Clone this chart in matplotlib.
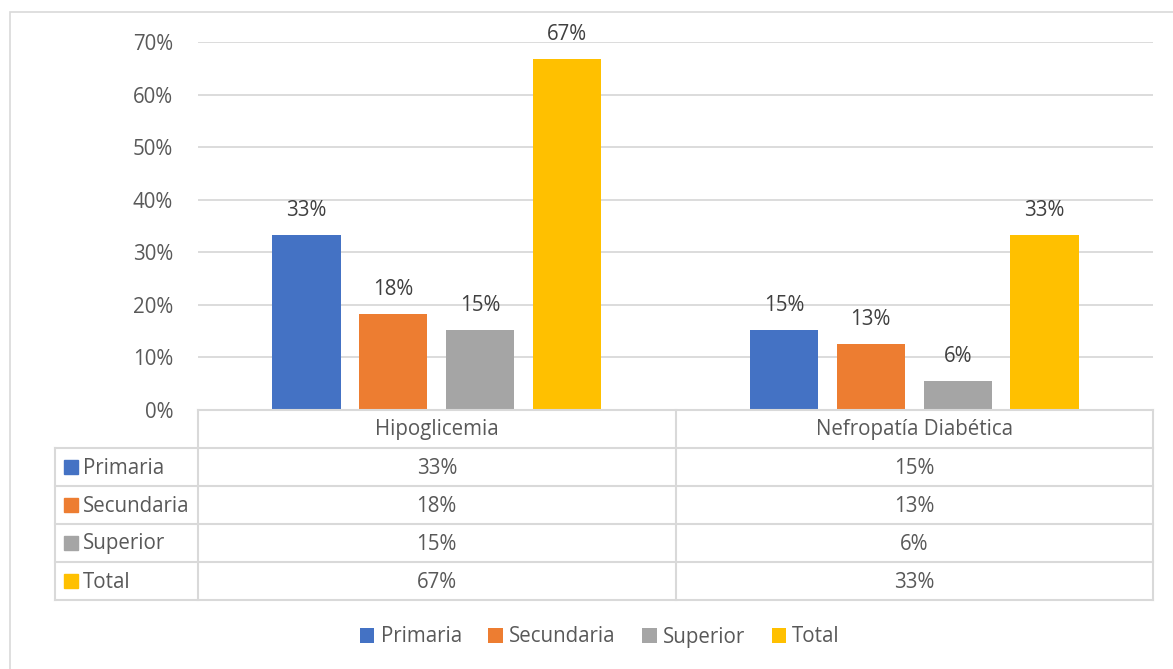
import numpy as np
import matplotlib
matplotlib.use("Agg")
import matplotlib.pyplot as plt
from matplotlib.patches import Rectangle

# datos
categorias = ["Hipoglicemia", "Nefropatía Diabética"]
series = ["Primaria", "Secundaria", "Superior", "Total"]
primaria = [0.333, 0.152]
secundaria = [0.182, 0.126]
superior = [0.152, 0.056]
total = [0.667, 0.333]
valores = [primaria, secundaria, superior, total]
colores = ["#4472C4", "#ED7D31", "#A5A5A5", "#FFC000"]

plt.rcParams["font.family"] = ["Open Sans", "DejaVu Sans"]
plt.rcParams["font.stretch"] = "semi-condensed"
TXT = "#595959"
GRID = "#D9D9D9"
FS = 14.8

W, H = 1173, 669
fig = plt.figure(figsize=(W / 100, H / 100), dpi=100)


def box(x0, y0, x1, y1):
    # pixeles (origen arriba-izquierda) -> fracciones de figura
    return [x0 / W, 1 - y1 / H, (x1 - x0) / W, (y1 - y0) / H]


# borde del grafico
fig.add_artist(Rectangle((10 / W, -0.1), 1.2, 1 - 12 / H + 0.1, transform=fig.transFigure,
                         fill=False, edgecolor=GRID, lw=1.2))

# barras
ax = fig.add_axes(box(198, 42, 1153, 410))
x = np.arange(len(categorias))
ancho = 0.143
paso = 0.182
for i, (nombre, vals, c) in enumerate(zip(series, valores, colores)):
    pos = x + (i - 1.5) * paso
    bars = ax.bar(pos, vals, width=ancho, color=c, label=nombre, zorder=3)
    for b, v in zip(bars, vals):
        ax.annotate(f"{v:.0%}", (b.get_x() + b.get_width() / 2, v), xytext=(0, 10),
                    textcoords="offset points", ha="center", va="bottom",
                    fontsize=FS, color="#404040")

ax.set_xlim(-0.5, len(categorias) - 0.5)
ax.set_ylim(0, 0.7)
ax.set_yticks(np.arange(0, 0.71, 0.1))
ax.set_yticklabels([f"{t:.0%}" for t in np.arange(0, 0.71, 0.1)], fontsize=FS, color=TXT)
ax.tick_params(axis="y", length=0, pad=18)
ax.set_xticks([])
ax.grid(axis="y", color=GRID, lw=1.3, zorder=0)
for s in ax.spines.values():
    s.set_visible(False)

# tabla de datos
tab = fig.add_axes(box(55, 410, 1153, 600))
tab.set_xlim(55, 1153)
tab.set_ylim(600, 410)
tab.axis("off")
col0, col_fin = 198, 1153
ancho_cat = (col_fin - col0) / len(categorias)
filas = np.linspace(410, 600, len(series) + 2)
lkw = dict(color=GRID, lw=1.5, clip_on=False)
# filas horizontales
tab.plot([col0, col_fin], [filas[0], filas[0]], **lkw)
for yy in filas[1:]:
    tab.plot([55, col_fin], [yy, yy], **lkw)
# verticales
tab.plot([55, 55], [filas[1], filas[-1]], **lkw)
for k in range(len(categorias) + 1):
    xx = col0 + k * ancho_cat
    tab.plot([xx, xx], [filas[0], filas[-1]], **lkw)
# encabezado
for k, cat in enumerate(categorias):
    tab.text(col0 + (k + 0.5) * ancho_cat, (filas[0] + filas[1]) / 2 + 1, cat,
             ha="center", va="center", fontsize=FS, color=TXT)
# filas de series
for i, (nombre, vals, c) in enumerate(zip(series, valores, colores)):
    yc = (filas[i + 1] + filas[i + 2]) / 2
    tab.add_patch(Rectangle((64, yc - 7), 14, 14, color=c, clip_on=False))
    tab.text(83, yc + 1, nombre, ha="left", va="center", fontsize=FS, color=TXT)
    for k, v in enumerate(vals):
        tab.text(col0 + (k + 0.5) * ancho_cat, yc + 1, f"{v:.0%}",
                 ha="center", va="center", fontsize=FS, color=TXT)

# leyenda
fig.legend(loc="center", bbox_to_anchor=(600 / W, 1 - 637 / H), ncol=4, frameon=False,
           fontsize=FS, labelcolor=TXT, handlelength=0.7, handleheight=0.7,
           handletextpad=0.3, columnspacing=1.3)

fig.savefig("out.png", dpi=100)
